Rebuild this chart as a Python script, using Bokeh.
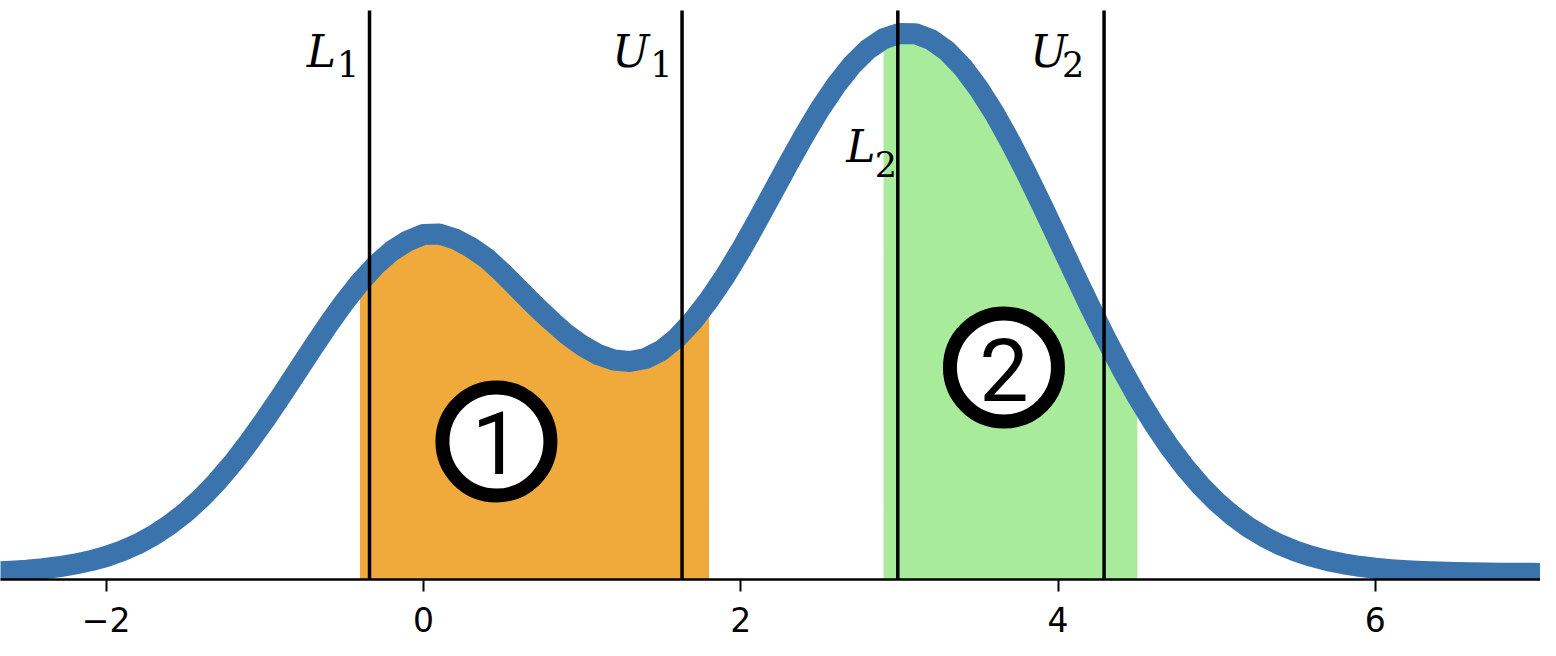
import numpy as np
from bokeh.plotting import figure
from bokeh.models import Range1d, FixedTicker
from bokeh.core.properties import value
from bokeh.embed import file_html
from bokeh.resources import INLINE

# ---- data ----
x_values = [round(-2.7 + 0.1 * i, 1) for i in range(100)]
density = [
    1.6, 2.3, 3.3, 4.8, 6.7, 9.3, 12.7, 17.0, 22.6, 29.6,
    38.2, 48.7, 61.0, 75.5, 92.1, 110.7, 131.3, 153.5, 176.8, 201.0,
    225.2, 248.8, 271.1, 291.2, 308.5, 322.5, 332.5, 339.0, 339.5, 334.5,
    326.0, 315.0, 300.5, 284.5, 268.5, 253.5, 239.5, 228.0, 219.0, 213.5,
    212.0, 215.0, 223.0, 236.0, 253.0, 273.6, 297.0, 323.2, 351.3, 380.6,
    409.8, 438.1, 464.6, 488.2, 508.3, 524.0, 534.7, 540.0, 539.8, 533.9,
    522.6, 506.1, 484.9, 459.8, 431.4, 400.5, 367.9, 334.3, 300.6, 267.4,
    235.4, 205.1, 176.7, 150.7, 127.1, 106.1, 87.6, 71.6, 57.9, 46.3,
    36.7, 28.7, 22.2, 17.1, 12.9, 9.7, 7.2, 5.3, 3.9, 2.8,
    2.0, 1.4, 0.97, 0.67, 0.45, 0.31, 0.21, 0.14, 0.09, 0.06,
]
bound_names = ["L", "U", "L", "U"]
bound_subs = ["1", "1", "2", "2"]
bound_x = [-0.34, 1.63, 2.99, 4.29]
region_lo = [-0.4, 2.9]
region_hi = [1.8, 4.5]
region_labels = ["1", "2"]
tick_values = [-2, 0, 2, 4, 6]
tick_labels = ["\u22122", "0", "2", "4", "6"]

# ---- styling / annotation placement ----
Y_MIN, Y_MAX = -6, 573
VLINE_TOP = 563
region_colors = ["#f0a93b", "#a8eb9b"]
curve_color = "#3b74ad"
name_x = [-0.735, 1.19, 2.665, 3.825]
name_y = [522, 522, 427, 522]
sub_x = [-0.545, 1.43, 2.845, 4.025]
sub_y = [510, 510, 410, 510]
circle_x = [0.46, 3.659]
circle_y = [132, 206]
digit_y = [131, 204]

xs = np.array(x_values)
ys = np.array(density)

p = figure(width=1540, height=640,
           x_range=Range1d(-2.666, 7.041), y_range=Range1d(Y_MIN, Y_MAX),
           output_backend="svg", toolbar_location=None, y_axis_location=None,
           min_border_left=0, min_border_right=0, min_border_top=0,
           min_border_bottom=61)
p.grid.visible = False
p.outline_line_color = None
p.background_fill_color = "white"
p.border_fill_color = "white"

ax = p.xaxis[0]
ax.ticker = FixedTicker(ticks=tick_values)
ax.major_label_overrides = {t: l for t, l in zip(tick_values, tick_labels)}
ax.minor_tick_line_color = None
ax.major_tick_in = 0
ax.major_tick_out = 12
ax.major_tick_line_width = 2
ax.major_tick_line_color = "black"
ax.axis_line_width = 2.5
ax.axis_line_color = "black"
ax.major_label_text_font = "DejaVu Sans"
ax.major_label_text_font_size = "33px"
ax.major_label_text_color = "black"
ax.major_label_standoff = 15

for lo, hi, col in zip(region_lo, region_hi, region_colors):
    m = (xs >= lo - 1e-9) & (xs <= hi + 1e-9)
    p.varea(x=xs[m], y1=np.full(m.sum(), Y_MIN), y2=ys[m], fill_color=col)

p.line(xs, ys, line_width=21, line_color=curve_color, line_join="round")

p.segment(x0=bound_x, y0=[Y_MIN] * len(bound_x), x1=bound_x,
          y1=[VLINE_TOP] * len(bound_x), line_width=3.5, line_color="black")

p.text(x=name_x, y=name_y, text=bound_names, text_font=value("DejaVu Serif"),
       text_font_style="italic", text_font_size="44px", text_color="black",
       text_align="left", text_baseline="alphabetic")
p.text(x=sub_x, y=sub_y, text=bound_subs, text_font=value("DejaVu Serif"),
       text_font_size="35px", text_color="black",
       text_align="left", text_baseline="alphabetic")

p.scatter(x=circle_x, y=circle_y, size=108, marker="circle",
          fill_color="white", line_color="black", line_width=14)
p.text(x=circle_x, y=digit_y, text=region_labels,
       text_font=value("Roboto"), text_font_size="88px",
       text_color="black", text_align="center", text_baseline="alphabetic")

open("out.html", "w").write(file_html(p, INLINE))
